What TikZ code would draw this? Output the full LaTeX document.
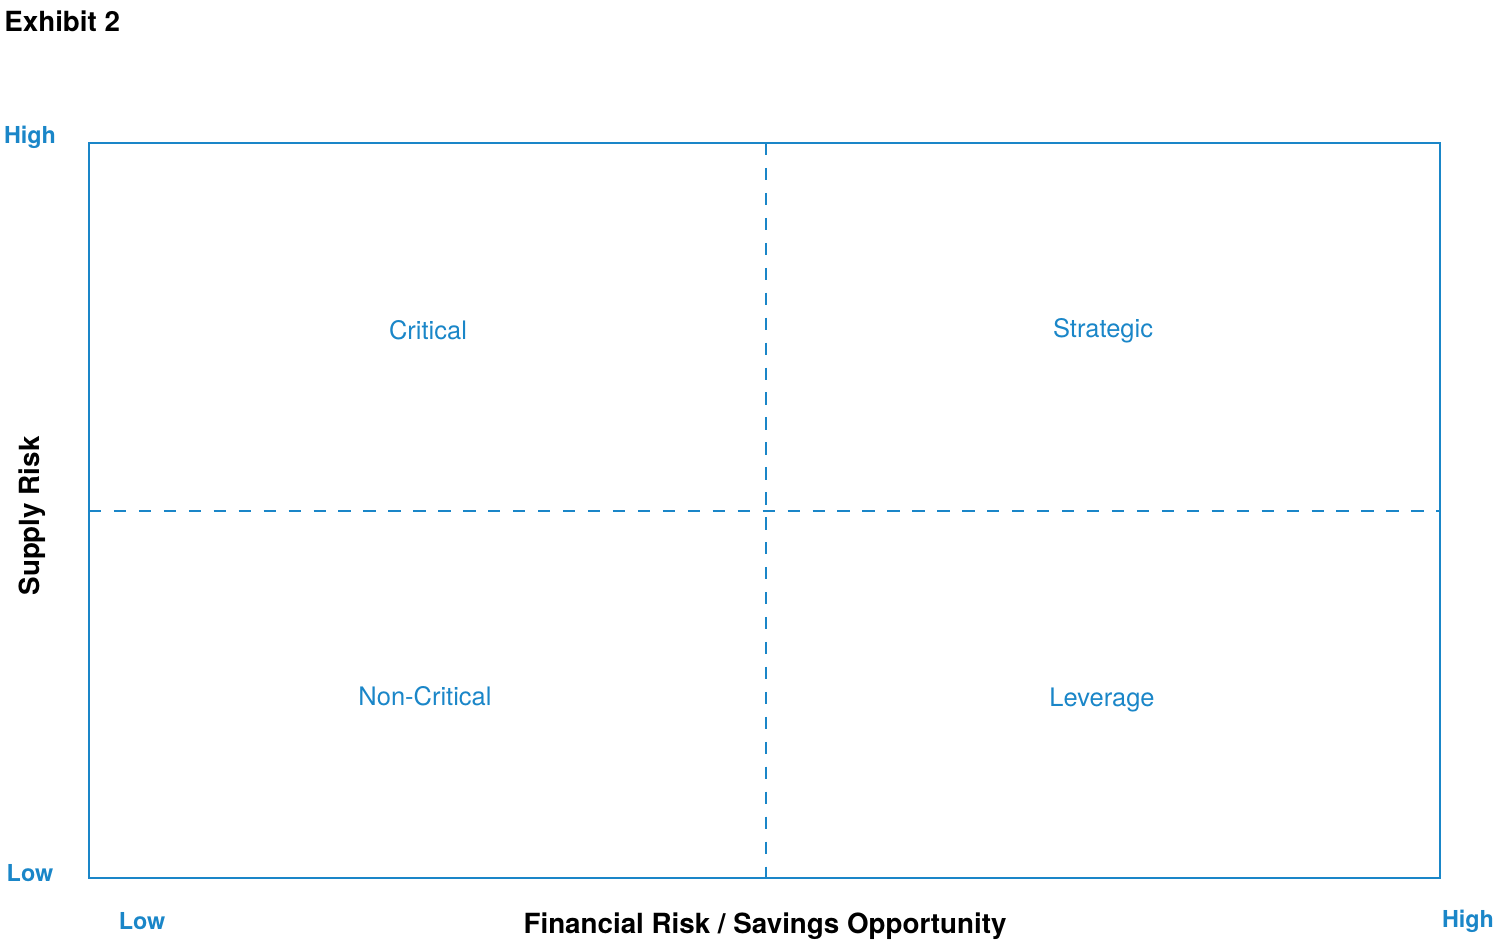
\documentclass[tikz,border=0pt]{standalone}
\usepackage{fontspec}
\setmainfont{TeX Gyre Heros}
\usepackage{tikz}
\definecolor{chartblue}{HTML}{1A86C8}
\tikzstyle{quad}=[text=chartblue, font=\fontsize{14.5}{16}\selectfont, anchor=center, inner sep=0pt]
\tikzstyle{level}=[text=chartblue, font=\fontsize{13.3}{15}\selectfont\bfseries, anchor=center, inner sep=0pt]
\tikzstyle{axis}=[text=black, font=\fontsize{15.8}{18}\selectfont\bfseries, anchor=center, inner sep=0pt]
\tikzstyle{divider}=[draw=chartblue, line width=1.1pt, dash pattern=on 7pt off 7.2pt]
\begin{document}
\begin{tikzpicture}[x=0.02cm, y=-0.02cm]
	\useasboundingbox (0,0) rectangle (1500,947);

	\node[axis, anchor=west](title) at (4,21){Exhibit 2};

	% matrix frame and dividers
	\coordinate (nw) at (89,143);
	\coordinate (se) at (1440,878);
	\draw[chartblue, line width=1.1pt] (nw) rectangle (se);
	\coordinate (vtop) at (766,143);
	\coordinate (vbot) at (766,878);
	\coordinate (hleft) at (89,511);
	\coordinate (hright) at (1440,511);
	\draw[divider] (vtop) -- (vbot);
	\draw[divider] (hleft) -- (hright);

	\node[quad](critical) at (428,330){Critical};
	\node[quad](strategic) at (1103,331){Strategic};
	\node[quad](noncritical) at (425,696){Non-Critical};
	\node[quad](leverage) at (1102,700){Leverage};

	\node[level](yhigh) at (30,137){High};
	\node[level](ylow) at (30,873){Low};
	\node[level](xlow) at (142,921){Low};
	\node[level](xhigh) at (1468,921){High};

	\node[axis, rotate=90](yaxis) at (32,516){Supply Risk};
	\node[axis](xaxis) at (765,926){Financial Risk / Savings Opportunity};

\end{tikzpicture}
\end{document}
